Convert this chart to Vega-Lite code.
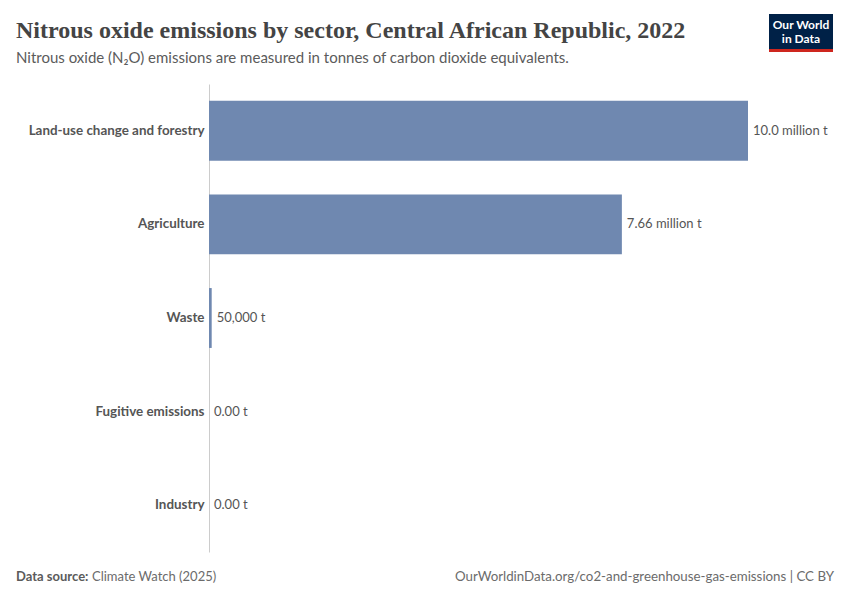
{
  "$schema": "https://vega.github.io/schema/vega-lite/v6.json",
  "autosize": "none",
  "width": 539,
  "height": 468,
  "padding": {"left": 209, "top": 84, "right": 102, "bottom": 48},
  "background": "white",
  "config": {"view": {"stroke": null}, "font": "Lato"},
  "data": {
    "values": [
      {"sector": "Land-use change and forestry", "value": 10000000, "label": "10.0 million t"},
      {"sector": "Agriculture", "value": 7660000, "label": "7.66 million t"},
      {"sector": "Waste", "value": 50000, "label": "50,000 t"},
      {"sector": "Fugitive emissions", "value": 0, "label": "0.00 t"},
      {"sector": "Industry", "value": 0, "label": "0.00 t"}
    ]
  },
  "layer": [
    {
      "mark": {"type": "bar", "color": "#6f88b0"},
      "encoding": {
        "y": {
          "field": "sector", "type": "nominal", "sort": null,
          "scale": {"paddingInner": 0.36, "paddingOuter": 0.18},
          "axis": {
            "title": null, "ticks": false, "domain": true, "domainColor": "#cccccc",
            "labelFont": "Lato", "labelFontSize": 13.4, "labelFontWeight": "bold",
            "labelColor": "#555555", "labelPadding": 5, "labelLimit": 250
          }
        },
        "x": {
          "field": "value", "type": "quantitative",
          "scale": {"domain": [0, 10000000], "nice": false},
          "axis": null
        }
      }
    },
    {
      "mark": {"type": "text", "align": "left", "dx": 5, "fontSize": 13, "color": "#555555", "font": "Lato"},
      "encoding": {
        "y": {"field": "sector", "type": "nominal", "sort": null},
        "x": {"field": "value", "type": "quantitative"},
        "text": {"field": "label"}
      }
    },
    {
      "data": {"values": [{}]},
      "mark": {"type": "text", "align": "left", "baseline": "alphabetic", "x": -193, "y": -46, "fontSize": 24, "fontWeight": "bold", "color": "#444444", "font": "Liberation Serif", "text": "Nitrous oxide emissions by sector, Central African Republic, 2022"},
      "encoding": {}
    },
    {
      "data": {"values": [{}]},
      "mark": {"type": "text", "align": "left", "baseline": "middle", "x": -193, "y": -26, "fontSize": 15, "color": "#5b5b5b", "font": "Lato", "text": "Nitrous oxide (N₂O) emissions are measured in tonnes of carbon dioxide equivalents."},
      "encoding": {}
    },
    {
      "data": {"values": [{}]},
      "mark": {"type": "text", "align": "left", "baseline": "middle", "x": -193, "y": 493, "fontSize": 13, "color": "#5b5b5b", "font": "Lato", "fontWeight": "bold", "text": "Data source:"},
      "encoding": {}
    },
    {
      "data": {"values": [{}]},
      "mark": {"type": "text", "align": "left", "baseline": "middle", "x": -117, "y": 493, "fontSize": 13, "color": "#6b6b6b", "font": "Lato", "text": "Climate Watch (2025)"},
      "encoding": {}
    },
    {
      "data": {"values": [{}]},
      "mark": {"type": "text", "align": "right", "baseline": "middle", "x": 625, "y": 493, "fontSize": 13.3, "color": "#6b6b6b", "font": "Lato", "text": "OurWorldinData.org/co2-and-greenhouse-gas-emissions | CC BY"},
      "encoding": {}
    },
    {
      "data": {"values": [{}]},
      "mark": {"type": "rect", "x": 560, "x2": 624, "y": -70, "y2": -35, "color": "#002147"},
      "encoding": {}
    },
    {
      "data": {"values": [{}]},
      "mark": {"type": "rect", "x": 560, "x2": 624, "y": -35, "y2": -32, "color": "#ce261e"},
      "encoding": {}
    },
    {
      "data": {"values": [{}]},
      "mark": {"type": "text", "align": "center", "baseline": "middle", "x": 592, "y": -59, "fontSize": 12, "color": "white", "font": "Lato", "fontWeight": "bold", "text": "Our World"},
      "encoding": {}
    },
    {
      "data": {"values": [{}]},
      "mark": {"type": "text", "align": "center", "baseline": "middle", "x": 592, "y": -45, "fontSize": 12, "color": "white", "font": "Lato", "fontWeight": "bold", "text": "in Data"},
      "encoding": {}
    }
  ]
}
